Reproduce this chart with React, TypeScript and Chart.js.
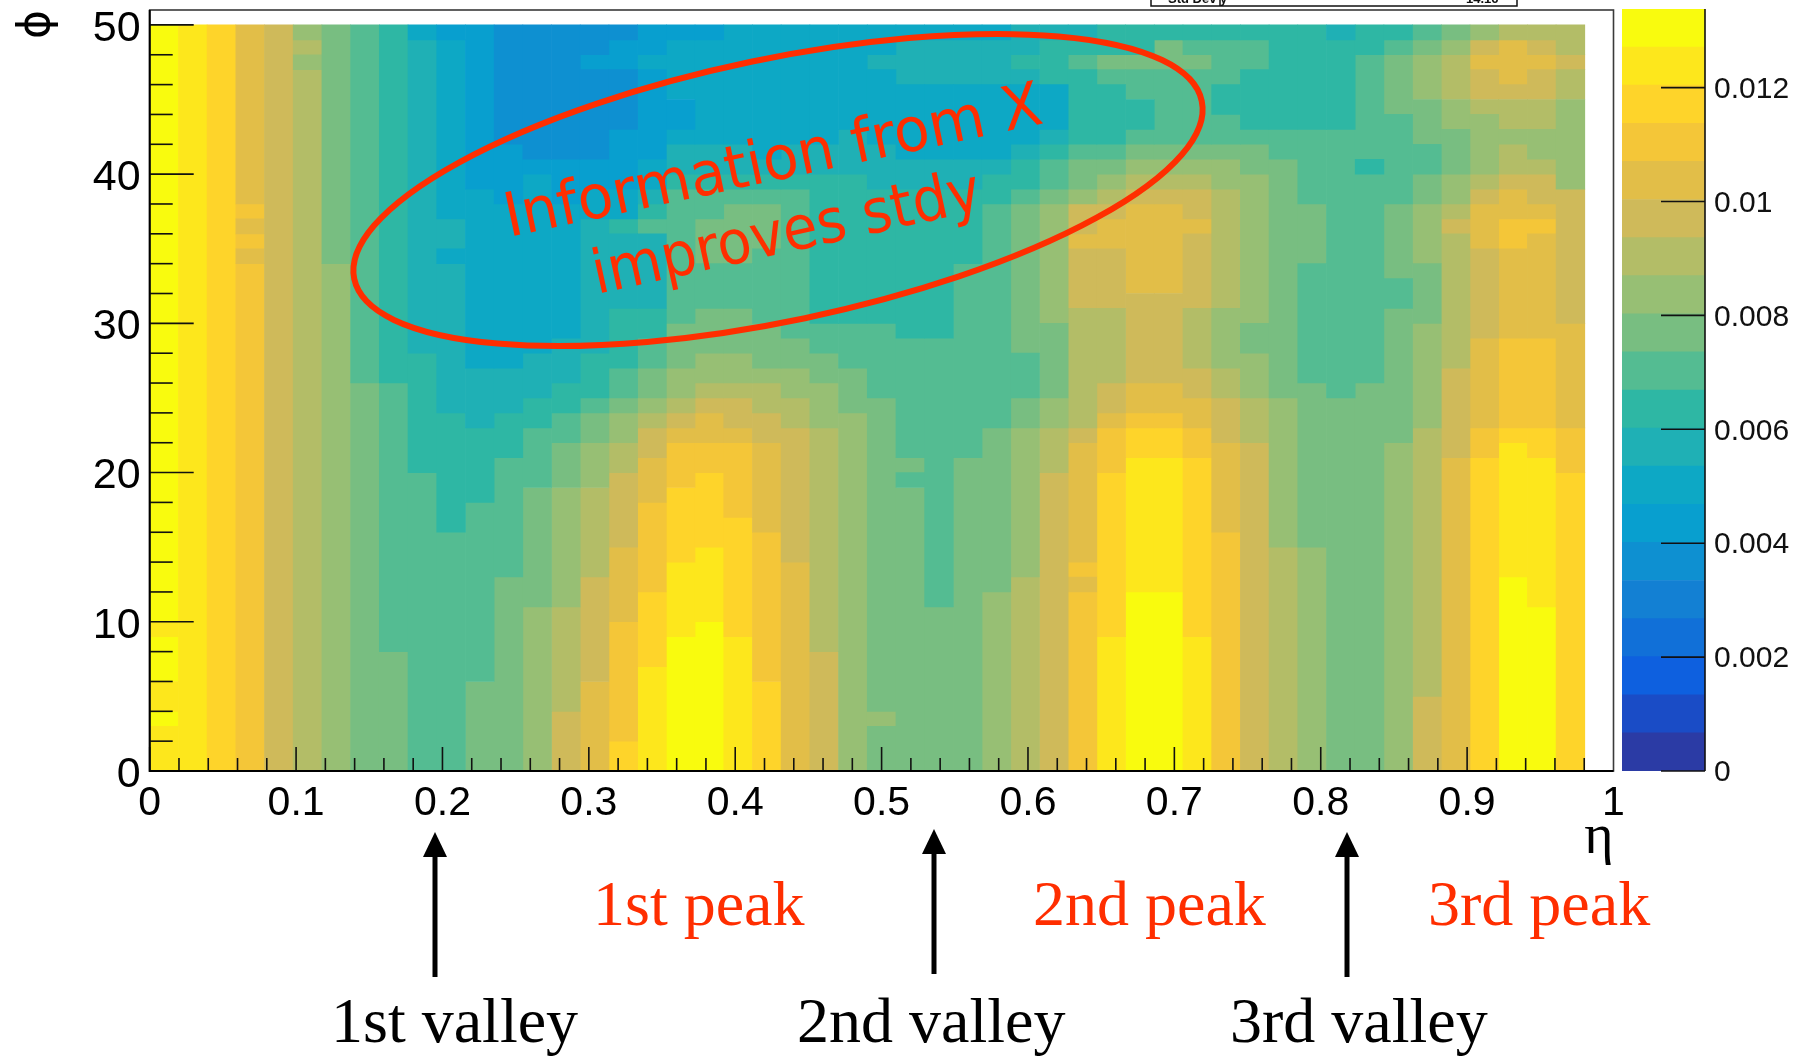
import React, { useEffect, useRef } from "react";
import { Chart, registerables } from "chart.js";

Chart.register(...registerables);

// Colour-bar palette, lowest band first (band number = index + 1)
const bandColors = [
  "#2B3BA5", "#1A4CC6", "#0E60DF", "#1170D8", "#1380D3", "#0E90D1", "#089FCF", "#0DA8C5", "#1FB0B5", "#2EB7A4",
  "#54BC92", "#78BE81", "#97BF74", "#B3BD67", "#CFBA5A", "#E2BE48", "#F4C638", "#FED42A", "#FDE71C", "#F9FB0E",
];
const colorbarMax = 0.01338;
const colorbarTicks = [0, 0.002, 0.004, 0.006, 0.008, 0.01, 0.012];

// Each column: [band, number of cells, band, number of cells, ...] read from phi = 50 down to phi = 0
const col00 = [20, 40, 19, 1, 20, 3, 19, 2, 20, 1, 19, 3];
const col01 = [19, 50];
const col02 = [18, 50];
const col03 = [16, 12, 17, 1, 16, 1, 17, 1, 16, 1, 17, 34];
const col04 = [15, 50];
const col05 = [13, 1, 14, 1, 13, 1, 14, 47];
const col06 = [12, 16, 13, 34];
const col07 = [11, 24, 12, 26];
const col08 = [10, 24, 11, 18, 12, 8];
const col09 = [8, 1, 9, 21, 10, 8, 11, 20];
const col10 = [7, 1, 8, 12, 9, 2, 8, 1, 9, 10, 10, 8, 11, 16];
const col11 = [7, 11, 8, 12, 9, 4, 10, 5, 11, 12, 12, 6];
const col12 = [6, 8, 7, 4, 8, 11, 9, 3, 10, 3, 11, 8, 12, 13];
const col13 = [6, 9, 7, 1, 8, 12, 9, 3, 10, 2, 11, 4, 12, 8, 13, 11];
const col14 = [6, 9, 7, 3, 8, 9, 9, 3, 10, 2, 11, 2, 12, 3, 13, 8, 14, 7, 15, 4];
const col15 = [6, 2, 7, 1, 6, 6, 7, 2, 8, 2, 9, 9, 10, 3, 11, 1, 12, 2, 13, 3, 14, 6, 15, 7, 16, 6];
const col16 = [6, 1, 7, 2, 6, 4, 7, 4, 8, 2, 10, 1, 9, 5, 10, 4, 11, 2, 12, 1, 13, 2, 14, 2, 15, 5, 16, 5, 17, 8, 18, 2];
const col17 = [7, 2, 8, 1, 7, 6, 8, 2, 9, 1, 10, 1, 11, 1, 9, 5, 10, 2, 11, 2, 12, 2, 13, 1, 14, 1, 15, 2, 16, 3, 17, 6, 18, 5, 19, 7];
const col18 = [7, 1, 8, 4, 7, 2, 8, 1, 9, 2, 10, 1, 11, 9, 12, 3, 13, 2, 14, 1, 15, 1, 16, 1, 17, 3, 18, 5, 19, 5, 20, 9];
const col19 = [7, 1, 8, 7, 9, 2, 10, 1, 11, 2, 12, 3, 11, 3, 12, 3, 13, 2, 14, 1, 15, 1, 16, 2, 17, 2, 18, 5, 19, 5, 20, 10];
const col20 = [8, 8, 9, 2, 10, 1, 11, 1, 12, 4, 11, 3, 12, 3, 13, 2, 14, 1, 15, 2, 16, 1, 17, 5, 18, 8, 19, 9];
const col21 = [8, 9, 9, 1, 10, 1, 11, 1, 12, 3, 11, 5, 12, 3, 13, 1, 14, 2, 15, 2, 16, 6, 17, 10, 18, 6];
const col22 = [8, 8, 9, 2, 10, 1, 11, 10, 12, 2, 13, 2, 14, 2, 15, 9, 16, 14];
const col23 = [8, 8, 9, 2, 10, 10, 11, 2, 12, 2, 13, 3, 14, 15, 15, 8];
const col24 = [8, 7, 9, 3, 10, 10, 11, 3, 12, 3, 13, 24];
const col25 = [8, 2, 9, 1, 8, 5, 9, 3, 10, 9, 11, 5, 12, 21, 13, 1, 12, 3];
const col26 = [8, 1, 9, 3, 8, 5, 9, 2, 10, 10, 11, 8, 12, 1, 11, 1, 12, 19];
const col27 = [8, 1, 9, 3, 8, 5, 9, 2, 10, 10, 11, 18, 12, 11];
const col28 = [8, 1, 9, 3, 8, 5, 9, 2, 10, 5, 11, 13, 12, 21];
const col29 = [8, 1, 9, 3, 8, 5, 9, 1, 10, 2, 11, 15, 12, 11, 13, 12];
const col30 = [9, 2, 10, 1, 9, 1, 8, 4, 9, 1, 10, 2, 11, 1, 12, 10, 11, 3, 12, 2, 13, 10, 14, 13];
const col31 = [9, 1, 10, 3, 8, 3, 9, 1, 10, 1, 11, 2, 12, 1, 13, 8, 12, 5, 13, 2, 14, 3, 15, 20];
const col32 = [9, 1, 10, 1, 11, 1, 10, 5, 11, 1, 12, 2, 13, 1, 15, 2, 16, 1, 15, 4, 14, 8, 15, 1, 16, 8, 17, 1, 16, 1, 17, 12];
const col33 = [10, 2, 12, 1, 11, 1, 10, 4, 11, 1, 12, 1, 13, 1, 14, 1, 15, 1, 16, 2, 15, 4, 14, 5, 15, 2, 16, 1, 17, 3, 18, 11, 19, 9];
const col34 = [10, 2, 12, 1, 11, 2, 10, 2, 11, 1, 12, 1, 13, 1, 14, 1, 15, 1, 16, 6, 15, 6, 16, 2, 17, 1, 18, 2, 19, 9, 20, 12];
const col35 = [10, 1, 12, 2, 11, 5, 12, 1, 13, 1, 14, 1, 15, 1, 16, 6, 15, 6, 16, 2, 17, 1, 18, 2, 19, 9, 20, 12];
const col36 = [10, 1, 11, 1, 12, 1, 11, 5, 12, 1, 13, 1, 14, 1, 15, 2, 16, 1, 15, 5, 14, 4, 15, 2, 16, 2, 17, 2, 18, 12, 19, 9];
const col37 = [10, 1, 11, 3, 10, 2, 11, 2, 12, 1, 13, 2, 14, 8, 13, 4, 14, 2, 15, 3, 16, 6, 17, 16];
const col38 = [10, 1, 11, 2, 10, 4, 11, 1, 12, 2, 13, 10, 12, 2, 13, 3, 14, 3, 15, 22];
const col39 = [10, 7, 11, 2, 12, 16, 13, 10, 14, 15];
const col40 = [10, 7, 11, 5, 12, 4, 11, 8, 12, 11, 13, 15];
const col41 = [9, 1, 10, 6, 11, 18, 12, 25];
const col42 = [10, 2, 11, 7, 10, 1, 11, 14, 12, 26];
const col43 = [10, 1, 11, 1, 12, 4, 11, 6, 12, 5, 11, 2, 12, 9, 13, 22];
const col44 = [11, 1, 12, 1, 13, 3, 12, 3, 11, 2, 12, 2, 13, 4, 12, 4, 13, 7, 14, 18, 15, 5];
const col45 = [12, 1, 13, 1, 14, 3, 13, 2, 12, 3, 13, 2, 14, 1, 15, 1, 14, 9, 15, 6, 16, 21];
const col46 = [13, 1, 15, 1, 16, 1, 15, 2, 14, 1, 13, 4, 14, 1, 15, 1, 16, 3, 15, 6, 16, 6, 17, 2, 18, 21];
const col47 = [14, 1, 16, 3, 15, 1, 14, 2, 13, 1, 14, 2, 15, 1, 16, 2, 17, 2, 16, 6, 17, 6, 18, 1, 19, 9, 20, 13];
const col48 = [14, 1, 15, 1, 16, 1, 15, 2, 14, 2, 13, 2, 14, 1, 15, 2, 16, 1, 17, 1, 16, 7, 17, 6, 18, 2, 19, 10, 20, 11];
const col49 = [14, 2, 15, 1, 14, 2, 13, 6, 15, 9, 16, 7, 17, 3, 18, 20];

const columns = [
  col00, col01, col02, col03, col04, col05, col06, col07, col08, col09,
  col10, col11, col12, col13, col14, col15, col16, col17, col18, col19,
  col20, col21, col22, col23, col24, col25, col26, col27, col28, col29,
  col30, col31, col32, col33, col34, col35, col36, col37, col38, col39,
  col40, col41, col42, col43, col44, col45, col46, col47, col48, col49,
];

const etaBinWidth = 1 / 51;
const phiTop = 50;
const yMajorLabels = [0, 10, 20, 30, 40, 50];

const peakLabels = ["1st peak", "2nd peak", "3rd peak"];
const valleyLabels = ["1st valley", "2nd valley", "3rd valley"];
const ellipseLines = ["Information from X", "improves stdy"];
const statsLabel = "Std Dev y";
const statsValue = "14.16";

const RED = "#FF2E00";

function buildDatasets() {
  const perBand: any[][] = bandColors.map(() => []);
  columns.forEach((runs, c) => {
    let top = phiTop;
    for (let i = 0; i < runs.length; i += 2) {
      const band = runs[i];
      const n = runs[i + 1];
      perBand[band - 1].push({ x: (c + 0.5) * etaBinWidth, y: [top - n, top] });
      top -= n;
    }
  });
  return perBand
    .map((data, i) => ({
      data,
      backgroundColor: bandColors[i],
      borderWidth: 0,
      grouped: false,
      barPercentage: 1,
      categoryPercentage: 1,
    }))
    .filter((d) => d.data.length > 0);
}

const isMultiple = (v: number, step: number) => Math.abs(v / step - Math.round(v / step)) < 1e-6;

const zeroPadding = (s: any) => {
  s.paddingTop = 0;
  s.paddingBottom = 0;
  s.paddingLeft = 0;
  s.paddingRight = 0;
};

const annotate = {
  id: "annotate",
  afterDatasetsDraw(chart: any) {
    const { ctx, chartArea: a, scales } = chart;
    ctx.save();
    // inward tick marks
    ctx.strokeStyle = "#111";
    ctx.lineWidth = 1.6;
    scales.y.ticks.forEach((t: any) => {
      const y = scales.y.getPixelForValue(t.value);
      const len = isMultiple(t.value, 10) ? 44 : 23;
      ctx.beginPath();
      ctx.moveTo(a.left, y);
      ctx.lineTo(a.left + len, y);
      ctx.stroke();
    });
    scales.x.ticks.forEach((t: any) => {
      if (t.value > 0.99) return;
      const x = scales.x.getPixelForValue(t.value);
      const len = isMultiple(t.value, 0.1) ? 24 : 13;
      ctx.beginPath();
      ctx.moveTo(x, a.bottom);
      ctx.lineTo(x, a.bottom - len);
      ctx.stroke();
    });
    // frame
    ctx.strokeStyle = "#3a3a3a";
    ctx.lineWidth = 1.6;
    ctx.strokeRect(a.left, a.top, a.right - a.left, a.bottom - a.top);
    ctx.strokeStyle = "#000";
    ctx.lineWidth = 2;
    ctx.beginPath();
    ctx.moveTo(a.left, a.top);
    ctx.lineTo(a.left, a.bottom);
    ctx.lineTo(a.right, a.bottom);
    ctx.stroke();

    // leftover stats box at the top edge
    ctx.strokeStyle = "#111";
    ctx.lineWidth = 1.5;
    ctx.beginPath();
    ctx.moveTo(1151, 0);
    ctx.lineTo(1151, 6);
    ctx.lineTo(1517, 6);
    ctx.lineTo(1517, 0);
    ctx.moveTo(1220, 0);
    ctx.lineTo(1220, 6);
    ctx.stroke();
    ctx.fillStyle = "#111";
    ctx.font = "bold 13px 'Liberation Sans'";
    ctx.textAlign = "left";
    ctx.textBaseline = "alphabetic";
    ctx.fillText(statsLabel, 1168, 3);
    ctx.fillText(statsValue, 1466, 3);

    // red ellipse
    ctx.strokeStyle = RED;
    ctx.lineWidth = 6;
    ctx.beginPath();
    ctx.ellipse(778, 190, 433, 131, (-11.86 * Math.PI) / 180, 0, Math.PI * 2);
    ctx.stroke();

    // rotated text in the ellipse
    ctx.fillStyle = RED;
    ctx.font = "61px 'DejaVu Sans'";
    const rot = (text: string, x: number, y: number, w: number, deg: number) => {
      ctx.save();
      ctx.translate(x, y);
      ctx.rotate((deg * Math.PI) / 180);
      ctx.fillText(text, 0, 0, w);
      ctx.restore();
    };
    rot(ellipseLines[0], 509, 237, 548, -12);
    rot(ellipseLines[1], 597, 294, 396, -12.4);

    // serif captions
    ctx.font = "64px 'Liberation Serif'";
    ctx.fillStyle = RED;
    ctx.fillText(peakLabels[0], 593, 925);
    ctx.fillText(peakLabels[1], 1033, 925);
    ctx.fillText(peakLabels[2], 1428, 925);
    ctx.fillStyle = "#000";
    ctx.fillText(valleyLabels[0], 331, 1042);
    ctx.fillText(valleyLabels[1], 797, 1042);
    ctx.fillText(valleyLabels[2], 1230, 1042);

    // arrows
    const arrow = (x: number, tip: number, end: number) => {
      ctx.strokeStyle = "#000";
      ctx.lineWidth = 5;
      ctx.beginPath();
      ctx.moveTo(x, end);
      ctx.lineTo(x, tip + 20);
      ctx.stroke();
      ctx.fillStyle = "#000";
      ctx.beginPath();
      ctx.moveTo(x, tip);
      ctx.lineTo(x + 12, tip + 25);
      ctx.lineTo(x - 12, tip + 25);
      ctx.closePath();
      ctx.fill();
    };
    arrow(435, 832, 977);
    arrow(934, 829, 974);
    arrow(1347, 832, 977);
    ctx.restore();
  },
};

const colorbarMarks = {
  id: "colorbarMarks",
  afterDatasetsDraw(chart: any) {
    const { ctx, chartArea: a, scales } = chart;
    ctx.save();
    ctx.strokeStyle = "#111";
    ctx.lineWidth = 1.6;
    colorbarTicks.forEach((v) => {
      const y = scales.y.getPixelForValue(v);
      ctx.beginPath();
      ctx.moveTo(a.right, y);
      ctx.lineTo(a.right - 44, y);
      ctx.stroke();
    });
    ctx.beginPath();
    ctx.moveTo(a.right, a.top);
    ctx.lineTo(a.right, a.bottom);
    ctx.stroke();
    ctx.restore();
  },
};

export default function App() {
  const mainRef = useRef<HTMLCanvasElement | null>(null);
  const barRef = useRef<HTMLCanvasElement | null>(null);

  useEffect(() => {
    const main = new Chart(mainRef.current as any, {
      type: "bar",
      data: { datasets: buildDatasets() as any },
      plugins: [annotate],
      options: {
        animation: false,
        responsive: false,
        devicePixelRatio: 1,
        layout: { padding: { top: 10, right: 192.5, left: 0, bottom: 0 } },
        plugins: { legend: { display: false }, tooltip: { enabled: false } },
        scales: {
          x: {
            type: "linear",
            offset: false,
            min: 0,
            max: 1,
            grid: { display: false, drawTicks: false, offset: false },
            border: { display: false },
            afterFit(s: any) {
              s.height = 288;
              zeroPadding(s);
            },
            afterBuildTicks(s: any) {
              const out: any[] = [];
              for (let i = 0; i <= 50; i++) out.push({ value: i / 50 });
              s.ticks = out;
            },
            ticks: {
              autoSkip: false,
              maxRotation: 0,
              minRotation: 0,
              padding: 8,
              color: "#000",
              font: { family: "'Liberation Sans'", size: 41 },
              callback(v: any) {
                return isMultiple(v, 0.1) ? String(Math.round(v * 10) / 10) : "";
              },
            },
            title: {
              display: true,
              text: "η",
              align: "end",
              color: "#000",
              font: { family: "'Liberation Serif'", size: 56 },
              padding: { top: 0, bottom: 187 },
            },
          },
          y: {
            type: "linear",
            min: 0,
            max: 51,
            grid: { display: false, drawTicks: false },
            border: { display: false },
            afterFit(s: any) {
              s.width = 149.7;
              zeroPadding(s);
            },
            ticks: {
              stepSize: 2,
              includeBounds: false,
              autoSkip: false,
              padding: 9,
              labelOffset: 4,
              color: "#000",
              font: { family: "'Liberation Sans'", size: 43 },
              callback(v: any) {
                return yMajorLabels.includes(v) ? String(v) : "";
              },
            },
            title: {
              display: true,
              text: "ϕ",
              align: "end",
              color: "#000",
              font: { family: "'DejaVu Sans'", size: 44 },
              padding: { top: 11, bottom: 0 },
            },
          },
        },
      } as any,
    });

    const bar = new Chart(barRef.current as any, {
      type: "bar",
      data: {
        labels: ["z"],
        datasets: bandColors.map((c) => ({
          data: [colorbarMax / bandColors.length],
          backgroundColor: c,
          borderWidth: 0,
          barPercentage: 1,
          categoryPercentage: 1,
          stack: "z",
        })) as any,
      },
      plugins: [colorbarMarks],
      options: {
        animation: false,
        responsive: false,
        devicePixelRatio: 1,
        layout: { padding: { top: 9, left: 7, right: 0, bottom: 288 } },
        plugins: { legend: { display: false }, tooltip: { enabled: false } },
        scales: {
          x: { stacked: true, display: false },
          y: {
            stacked: true,
            position: "right",
            min: 0,
            max: colorbarMax,
            grid: { display: false, drawTicks: false },
            border: { display: false },
            afterFit(s: any) {
              s.width = 101;
              zeroPadding(s);
            },
            afterBuildTicks(s: any) {
              s.ticks = colorbarTicks.map((value) => ({ value }));
            },
            ticks: {
              autoSkip: false,
              padding: 9,
              labelOffset: 2,
              color: "#111",
              font: { family: "'Liberation Sans'", size: 30 },
              callback(v: any) {
                return String(+Number(v).toFixed(3));
              },
            },
          },
        },
      } as any,
    });

    return () => {
      main.destroy();
      bar.destroy();
    };
  }, []);

  return (
    <div style={{ position: "absolute", left: 0, top: 0, width: 1806, height: 1059, background: "#fff", overflow: "hidden" }}>
      <canvas ref={mainRef} width={1806} height={1059} style={{ position: "absolute", left: 0, top: 0, display: "block" }} />
      <canvas ref={barRef} width={191} height={1059} style={{ position: "absolute", left: 1615, top: 0, display: "block" }} />
    </div>
  );
}
